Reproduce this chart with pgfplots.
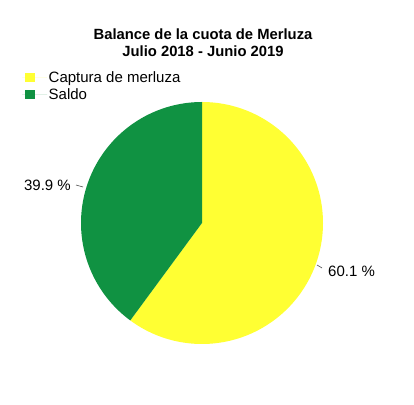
\documentclass[border=0pt]{standalone}
\usepackage{pgfplots}
\pgfplotsset{compat=1.18}
\usepackage{pgfplotstable}
\usepackage{fontspec}
\setmainfont{Liberation Sans}
\definecolor{pieyellow}{RGB}{255,255,51}
\definecolor{piegreen}{RGB}{16,146,66}
\pgfplotstableread{
label value
Captura 60.1
Saldo 39.9
}\pietable
\begin{document}
\begin{tikzpicture}
\pgfplotstablegetelem{0}{value}\of\pietable \let\va\pgfplotsretval
\pgfplotstablegetelem{1}{value}\of\pietable \let\vb\pgfplotsretval
\pgfmathsetmacro{\aend}{90-3.6*\va}
\pgfmathsetmacro{\bend}{90+3.6*\vb}
\begin{axis}[
 width=414bp, height=405bp, scale only axis,
 xmin=0,xmax=414,ymin=0,ymax=405,
 hide axis, clip=false,
 legend style={at={(axis cs:22,335)},anchor=north west,draw=none,fill=none,
   font=\fontsize{15bp}{18bp}\selectfont, row sep=1.5bp, inner sep=0pt,
   nodes={inner sep=1.5bp}},
 legend cell align=left,
 legend image code/.code={\path (0bp,0bp) -- (25bp,0bp);
   \fill[#1] (3bp,-4.5bp) rectangle (13bp,4.5bp);},
]
\path (axis cs:0,0) rectangle (axis cs:414,405);
\addplot[fill=pieyellow, draw=none, domain=90:\aend, samples=150]
  ({202+121*cos(x)},{182+121*sin(x)}) -- (axis cs:202,182) -- cycle;
\addlegendentry{Captura de merluza}
\addplot[fill=piegreen, draw=none, domain=90:\bend, samples=120]
  ({202+121*cos(x)},{182+121*sin(x)}) -- (axis cs:202,182) -- cycle;
\addlegendentry{Saldo}
\node[align=center, font=\fontsize{14.8bp}{16.5bp}\selectfont\bfseries, inner sep=0pt]
  at (axis cs:203,362.5) {Balance de la cuota de Merluza\\Julio 2018 - Junio 2019};
\node[anchor=east, inner sep=0pt, font=\fontsize{15bp}{18bp}\selectfont] at (axis cs:71,220) {39.9 \%};
\draw[black!70, line width=0.6bp] (axis cs:76,220) -- (axis cs:83,218);
\node[anchor=west, inner sep=0pt, font=\fontsize{15bp}{18bp}\selectfont] at (axis cs:328,134) {60.1 \%};
\draw[black!70, line width=0.6bp] (axis cs:317,140) -- (axis cs:322,137);
\end{axis}
\end{tikzpicture}
\end{document}
